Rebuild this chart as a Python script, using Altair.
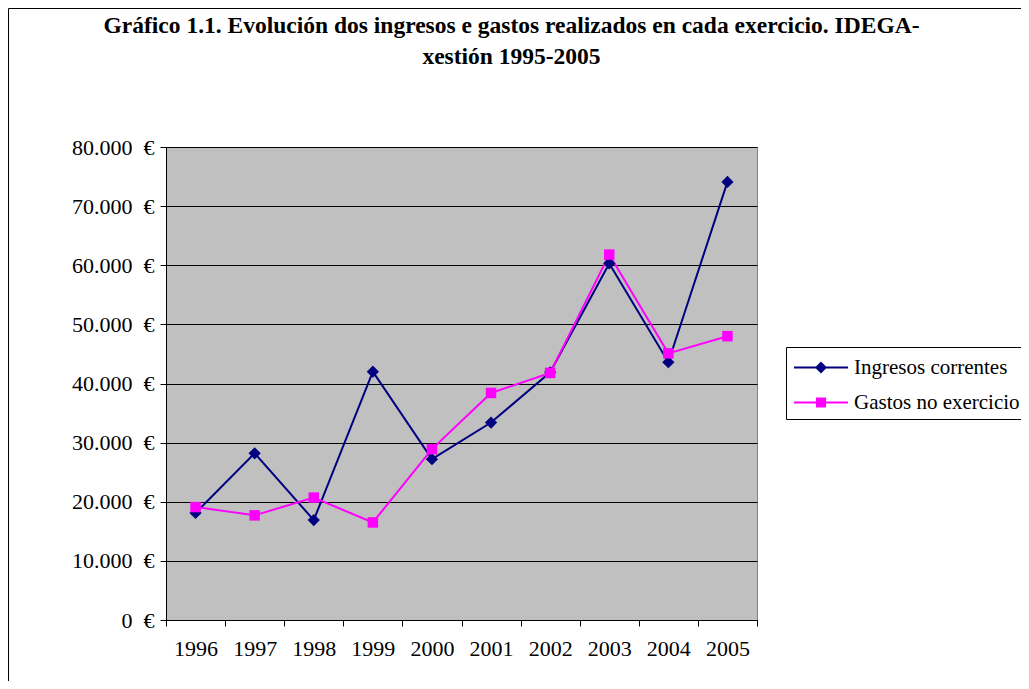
import altair as alt
import pandas as pd

years = ["1996", "1997", "1998", "1999", "2000", "2001", "2002", "2003", "2004", "2005"]
ingresos = [18100, 28200, 16900, 42000, 27200, 33400, 41900, 60300, 43600, 74100]
gastos = [19100, 17700, 20700, 16500, 28900, 38400, 41800, 61800, 45100, 48000]
series_names = ["Ingresos correntes", "Gastos no exercicio"]
series_colors = ["#000080", "#FF00FF"]
y_ticks = [0, 10000, 20000, 30000, 40000, 50000, 60000, 70000, 80000]
title_lines = ["Gráfico 1.1. Evolución dos ingresos e gastos realizados en cada exercicio. IDEGA-",
               "xestión 1995-2005"]

rows = []
for name, vals in zip(series_names, [ingresos, gastos]):
    for yr, v in zip(years, vals):
        rows.append({"ano": yr, "valor": v, "serie": name, "serie_l": name})
df = pd.DataFrame(rows)

FONT = "Liberation Serif"
W, H = 591, 473

x_enc = alt.X("ano:N", sort=years,
              scale=alt.Scale(type="band", paddingInner=0, paddingOuter=0),
              axis=alt.Axis(title=None, tickBand="extent", labelAngle=0, labelFont=FONT,
                            labelFontSize=22, labelColor="black", domainColor="black",
                            tickColor="black", tickSize=6, labelPadding=12, grid=False))
y_enc = alt.Y("valor:Q", scale=alt.Scale(domain=[0, 80000], nice=False),
              axis=alt.Axis(title=None, values=y_ticks, labelFont=FONT, labelFontSize=22,
                            labelColor="black", domainColor="black", tickColor="black",
                            tickSize=6, labelPadding=6, grid=True, gridColor="black",
                            gridWidth=1,
                            labelExpr="replace(format(datum.value, ',.0f'), ',', '.') + '\u2002€'"))

base = alt.Chart(df)

frame = alt.Chart(alt.Data(values=[{"k": 1}])).mark_rect(
    filled=False, stroke="black", strokeWidth=1
).encode(x=alt.value(-157.5), x2=alt.value(1400), y=alt.value(-138.5), y2=alt.value(900))

lines = base.mark_line(strokeWidth=2).encode(
    x=x_enc, y=y_enc,
    color=alt.Color("serie:N", scale=alt.Scale(domain=series_names, range=series_colors),
                    legend=None),
    order=alt.Order("ano:N"),
)

points = base.mark_point(filled=True, opacity=1).encode(
    x=x_enc, y=y_enc,
    color=alt.Color("serie:N", scale=alt.Scale(domain=series_names, range=series_colors),
                    legend=None),
    shape=alt.Shape("serie:N", scale=alt.Scale(domain=series_names, range=["diamond", "square"]),
                    legend=None),
    size=alt.Size("serie:N", scale=alt.Scale(domain=series_names, range=[150, 110]), legend=None),
)

# legend symbols: a line with a marker drawn as concentric outlines
leg_paths = [
    "M-2,0L2,0M0,-0.34L0.34,0L0,0.34L-0.34,0ZM0,-0.2L0.2,0L0,0.2L-0.2,0ZM0,-0.06L0.06,0L0,0.06L-0.06,0Z",
    "M-2,0L2,0M-0.3,-0.3L0.3,-0.3L0.3,0.3L-0.3,0.3ZM-0.16,-0.16L0.16,-0.16L0.16,0.16L-0.16,0.16ZM-0.04,-0.04L0.04,-0.04L0.04,0.04L-0.04,0.04Z",
]
legend_def = alt.Legend(title=None, orient="none", legendX=620, legendY=200,
                        labelFont=FONT, labelFontSize=21, labelColor="black", labelLimit=400,
                        strokeColor="black", fillColor="white", padding=6,
                        symbolSize=729, symbolStrokeWidth=2, symbolOffset=14.5,
                        labelOffset=18.5, rowPadding=10)
legend_layer = base.mark_point(filled=False, size=729, strokeWidth=2, opacity=1).encode(
    x=x_enc, y=y_enc,
    color=alt.Color("serie_l:N", scale=alt.Scale(domain=series_names, range=series_colors),
                    legend=legend_def),
    shape=alt.Shape("serie_l:N", scale=alt.Scale(domain=series_names, range=leg_paths),
                    legend=legend_def),
).transform_filter("false")

chart = alt.layer(frame, lines, points, legend_layer).resolve_scale(
    shape="independent", size="independent", color="independent"
).properties(
    width=W, height=H,
    title=alt.TitleParams(text=title_lines, font=FONT, fontSize=23.5, fontWeight="bold",
                          color="black", anchor="middle", frame="group", dx=50, offset=-60,
                          lineHeight=31),
    autosize=alt.AutoSizeParams(type="none"),
    padding={"left": 158, "top": 139, "right": 264, "bottom": 61},
).configure_view(
    fill="#C0C0C0", stroke="#808080", strokeWidth=1
)

chart.save("out.html", embed_options={"renderer": "svg", "actions": False})
